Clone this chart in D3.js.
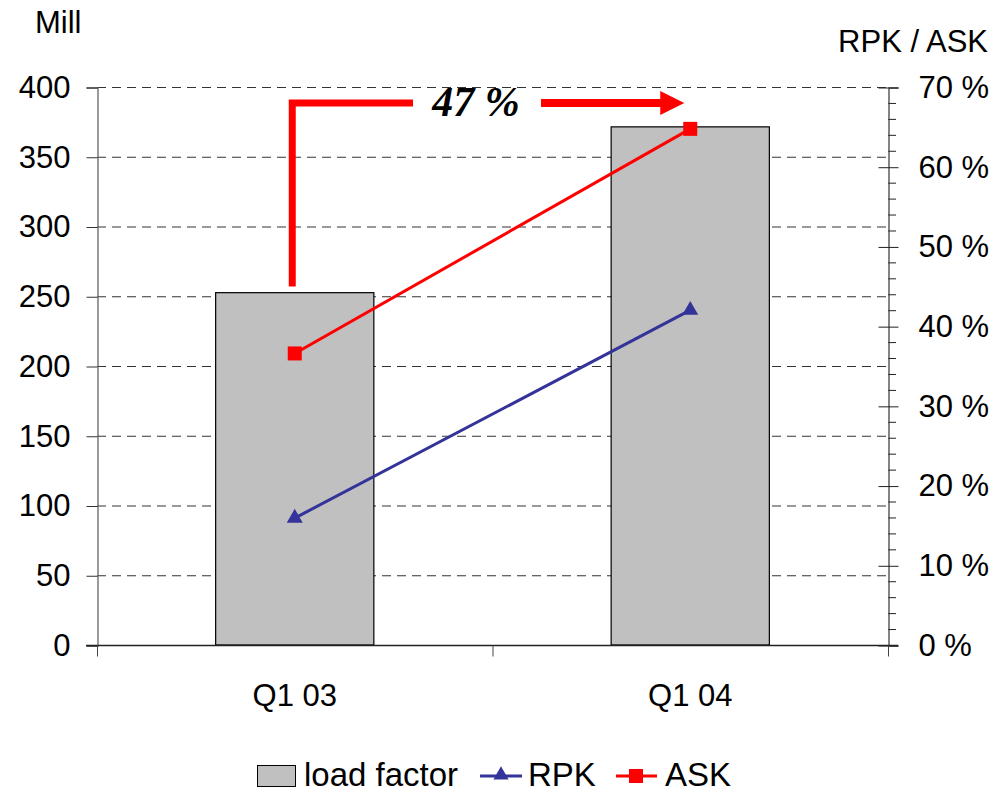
<!DOCTYPE html>
<html>
<head>
<meta charset="utf-8">
<script src="https://cdn.jsdelivr.net/npm/d3@7"></script>
<style>
  html, body { margin: 0; padding: 0; background: #fff; }
  svg { display: block; font-family: "Liberation Sans", Arial, sans-serif; }
</style>
</head>
<body>
<svg id="chart" width="995" height="792"></svg>
<script>
// Quarterly traffic: load factor (bars, right axis), RPK and ASK (lines, left axis, Mill)
const categories = ["Q1 03", "Q1 04"];
const loadFactor = [44.2, 65.0];      // %
const rpk = [91, 240];                // Mill
const ask = [209, 370];               // Mill
const leftTicks = [0, 50, 100, 150, 200, 250, 300, 350, 400];
const rightTicks = [0, 10, 20, 30, 40, 50, 60, 70];
const growthLabel = "47 %";

const svg = d3.select("#chart");
const plot = { left: 97, right: 888, top: 87, bottom: 645 };

const x = d3.scaleBand().domain(categories).range([plot.left, plot.right]).paddingInner(0).paddingOuter(0);
const yL = d3.scaleLinear().domain([0, 400]).range([plot.bottom, plot.top]);
const yR = d3.scaleLinear().domain([0, 70]).range([plot.bottom, plot.top]);
const cx = c => x(c) + x.bandwidth() / 2;
const barW = x.bandwidth() * 0.4;

const fontSize = 31;

// Gridlines
svg.append("g")
  .selectAll("line")
  .data(leftTicks.filter(d => d > 0))
  .join("line")
  .attr("x1", plot.left).attr("x2", plot.right)
  .attr("y1", d => yL(d) + 0.5).attr("y2", d => yL(d) + 0.5)
  .attr("stroke", "#333").attr("stroke-width", 1)
  .attr("stroke-dasharray", "9,6");

// Bars
svg.append("g")
  .selectAll("rect")
  .data(categories)
  .join("rect")
  .attr("x", (c) => cx(c) - barW / 2)
  .attr("width", barW)
  .attr("y", (c, i) => yR(loadFactor[i]))
  .attr("height", (c, i) => plot.bottom - yR(loadFactor[i]))
  .attr("fill", "#c0c0c0")
  .attr("stroke", "#000").attr("stroke-width", 1.2);

// Left axis
const leftAxis = d3.axisLeft(yL).tickValues(leftTicks).tickSize(11).tickPadding(16).tickFormat(d3.format("d"));
const gL = svg.append("g").attr("transform", `translate(${plot.left + 0.5},0.5)`).call(leftAxis);
gL.select(".domain").attr("stroke", "#666").attr("stroke-width", 1.3);
gL.selectAll(".tick line").attr("stroke", "#333");
gL.selectAll("text").attr("font-size", fontSize).attr("fill", "#000").attr("font-family", "Liberation Sans, Arial, sans-serif");

// Right axis: minor ticks every 2 %, major ticks crossing the axis
const minor = d3.range(0, 71, 2).filter(d => d % 10 !== 0);
svg.append("g")
  .selectAll("line")
  .data(minor)
  .join("line")
  .attr("x1", plot.right).attr("x2", plot.right + 8)
  .attr("y1", d => yR(d) + 0.5).attr("y2", d => yR(d) + 0.5)
  .attr("stroke", "#222").attr("stroke-width", 1);
const rightAxis = d3.axisRight(yR).tickValues(rightTicks).tickSize(10).tickPadding(20).tickFormat(d => d + " %");
const gR = svg.append("g").attr("transform", `translate(${plot.right + 0.5},0.5)`).call(rightAxis);
gR.select(".domain").attr("stroke", "#444").attr("stroke-width", 1.3);
gR.selectAll(".tick line").attr("x1", -10).attr("stroke", "#222");
gR.selectAll("text").attr("font-size", fontSize).attr("fill", "#000").attr("font-family", "Liberation Sans, Arial, sans-serif");

// Bottom axis
const bottomAxis = d3.axisBottom(x).tickSize(0).tickPadding(0);
const gB = svg.append("g").attr("transform", `translate(0,${plot.bottom + 0.5})`).call(bottomAxis);
gB.select(".domain").remove();
gB.append("line").attr("x1", plot.left - 11).attr("x2", plot.right + 10).attr("stroke", "#222").attr("stroke-width", 1.3);
gB.selectAll(".cat-tick")
  .data([plot.left, x(categories[1]), plot.right])
  .join("line")
  .attr("class", "cat-tick")
  .attr("x1", d => d + 0.5).attr("x2", d => d + 0.5)
  .attr("y1", 0).attr("y2", 11)
  .attr("stroke", "#444").attr("stroke-width", 1);
gB.selectAll(".tick text").attr("font-size", fontSize).attr("fill", "#000")
  .attr("dy", 0).attr("y", 60).attr("font-family", "Liberation Sans, Arial, sans-serif");

// Axis titles
svg.append("text").attr("x", 35).attr("y", 33).attr("font-size", fontSize).text("Mill");
svg.append("text").attr("x", 988).attr("y", 52).attr("text-anchor", "end").attr("font-size", fontSize).text("RPK / ASK");

// Lines
const lineGen = d3.line().x((d, i) => cx(categories[i])).y(d => yL(d));
svg.append("path").datum(ask).attr("d", lineGen).attr("fill", "none").attr("stroke", "#ff0000").attr("stroke-width", 3);
svg.append("path").datum(rpk).attr("d", lineGen).attr("fill", "none").attr("stroke", "#333399").attr("stroke-width", 3);

// Markers
svg.append("g").selectAll("rect").data(ask).join("rect")
  .attr("x", (d, i) => cx(categories[i]) - 7).attr("y", d => yL(d) - 7)
  .attr("width", 14).attr("height", 14).attr("fill", "#ff0000");
const tri = d3.symbol().type(d3.symbolTriangle).size(110);
svg.append("g").selectAll("path").data(rpk).join("path")
  .attr("d", tri)
  .attr("transform", (d, i) => `translate(${cx(categories[i])},${yL(d)})`)
  .attr("fill", "#333399");

// Growth annotation: bracket arrow from Q1 03 to Q1 04
const annY = yL(388.5);
const x0 = cx(categories[0]) - 2.5;
const red = "#ff0000";
svg.append("path")
  .attr("d", `M${x0},${yL(257)} L${x0},${annY} L${413},${annY}`)
  .attr("fill", "none").attr("stroke", red).attr("stroke-width", 7).attr("stroke-linejoin", "miter");
const tipX = cx(categories[1]) - 6;
svg.append("line")
  .attr("x1", 541).attr("x2", tipX - 22).attr("y1", annY).attr("y2", annY)
  .attr("stroke", red).attr("stroke-width", 8);
svg.append("path")
  .attr("d", `M${tipX - 24},${annY - 12} L${tipX},${annY} L${tipX - 24},${annY + 12} Z`)
  .attr("fill", red);
svg.append("text")
  .attr("x", 476).attr("y", annY + 13)
  .attr("text-anchor", "middle")
  .attr("font-family", "Liberation Serif, 'Times New Roman', serif")
  .attr("font-weight", "bold").attr("font-style", "italic")
  .attr("font-size", 42)
  .text(growthLabel);

// Legend
const lg = svg.append("g").attr("font-size", 33);
const ly = 776;
const lb = 786;
lg.append("rect").attr("x", 257.5).attr("y", 765.5).attr("width", 38).attr("height", 21)
  .attr("fill", "#c0c0c0").attr("stroke", "#000").attr("stroke-width", 1);
lg.append("text").attr("x", 304).attr("y", lb).text("load factor");
lg.append("line").attr("x1", 480).attr("x2", 522).attr("y1", ly).attr("y2", ly).attr("stroke", "#333399").attr("stroke-width", 3);
lg.append("path").attr("d", d3.symbol().type(d3.symbolTriangle).size(100)).attr("transform", `translate(501,${ly - 1})`).attr("fill", "#333399");
lg.append("text").attr("x", 528).attr("y", lb).text("RPK");
lg.append("line").attr("x1", 616).attr("x2", 657).attr("y1", ly).attr("y2", ly).attr("stroke", "#ff0000").attr("stroke-width", 3);
lg.append("rect").attr("x", 629).attr("y", ly - 7).attr("width", 14).attr("height", 14).attr("fill", "#ff0000");
lg.append("text").attr("x", 665).attr("y", lb).text("ASK");
</script>
</body>
</html>
